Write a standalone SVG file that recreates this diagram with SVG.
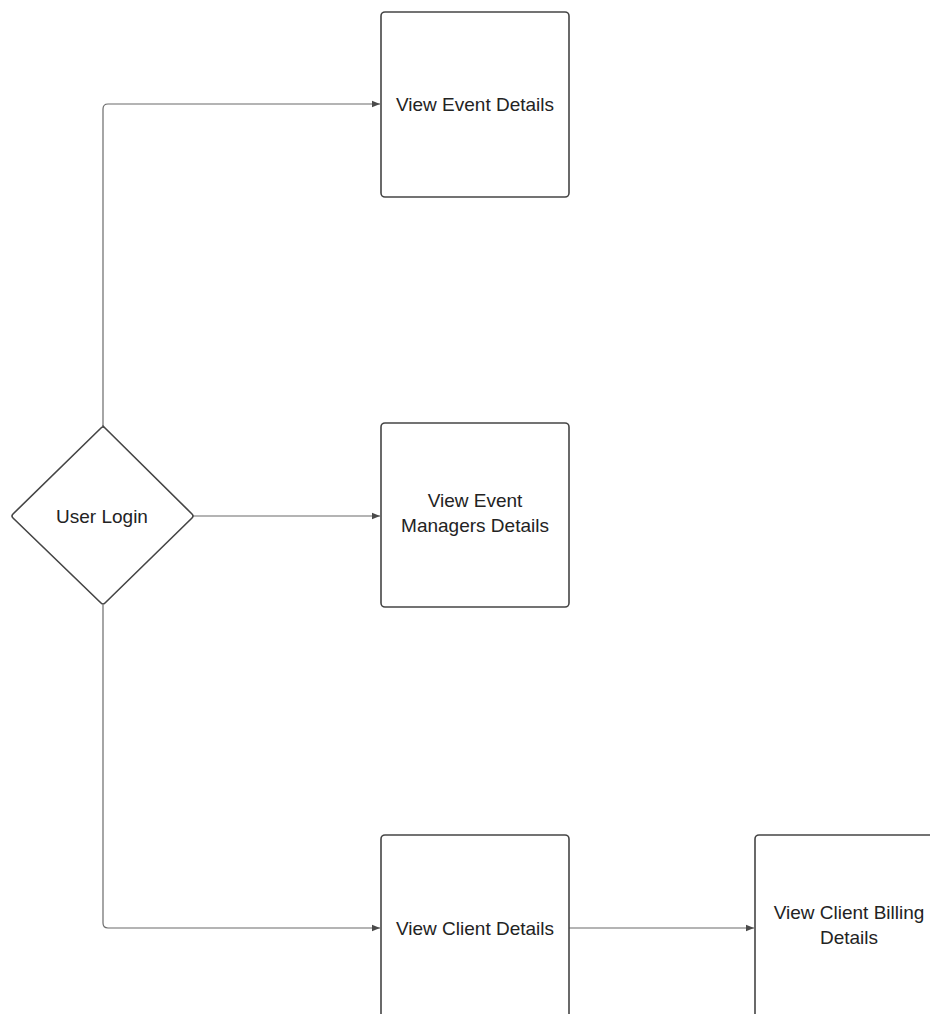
<svg xmlns="http://www.w3.org/2000/svg" width="930" height="1014" viewBox="0 0 930 1014">
  <style>
    .box { fill: #ffffff; stroke: #454545; stroke-width: 1.6; }
    .conn { fill: none; stroke: #6b6b6b; stroke-width: 1.2; }
    .lbl { font-family: "Liberation Sans", Arial, sans-serif; font-size: 19px; fill: #232323; text-anchor: middle; }
  </style>
  <defs>
    <marker id="arrow" viewBox="0 0 10 10" refX="10" refY="5" markerWidth="10" markerHeight="8" markerUnits="userSpaceOnUse" orient="auto">
      <path d="M0,1 L10,5 L0,9 z" fill="#4a4a4a"/>
    </marker>
  </defs>
  <rect width="930" height="1014" fill="#ffffff"/>
  <g id="connectors">
    <path class="conn" d="M103,426 V109 Q103,104 108,104 H380" marker-end="url(#arrow)"/>
    <path class="conn" d="M193,516 H380" marker-end="url(#arrow)"/>
    <path class="conn" d="M103,605 V923 Q103,928 108,928 H380" marker-end="url(#arrow)"/>
    <path class="conn" d="M569,928 H754" marker-end="url(#arrow)"/>
  </g>
  <g id="user-login">
    <path class="box" d="M103,426 L192,514 Q194,516 192,518 L105,603 Q103,605 101,603 L13,518 Q11,516 13,514 L101,428 Q103,426 105,428 Z" stroke-linejoin="round"/>
    <text class="lbl" x="102" y="523">User Login</text>
  </g>
  <g id="view-event-details">
    <rect class="box" x="381" y="12" width="188" height="185" rx="4"/>
    <text class="lbl" x="475" y="111">View Event Details</text>
  </g>
  <g id="view-event-managers-details">
    <rect class="box" x="381" y="423" width="188" height="184" rx="4"/>
    <text class="lbl" x="475" y="507">View Event</text>
    <text class="lbl" x="475" y="532">Managers Details</text>
  </g>
  <g id="view-client-details">
    <rect class="box" x="381" y="835" width="188" height="200" rx="4"/>
    <text class="lbl" x="475" y="935">View Client Details</text>
  </g>
  <g id="view-client-billing-details">
    <rect class="box" x="755" y="835" width="188" height="200" rx="4"/>
    <text class="lbl" x="849" y="919">View Client Billing</text>
    <text class="lbl" x="849" y="944">Details</text>
  </g>
</svg>
